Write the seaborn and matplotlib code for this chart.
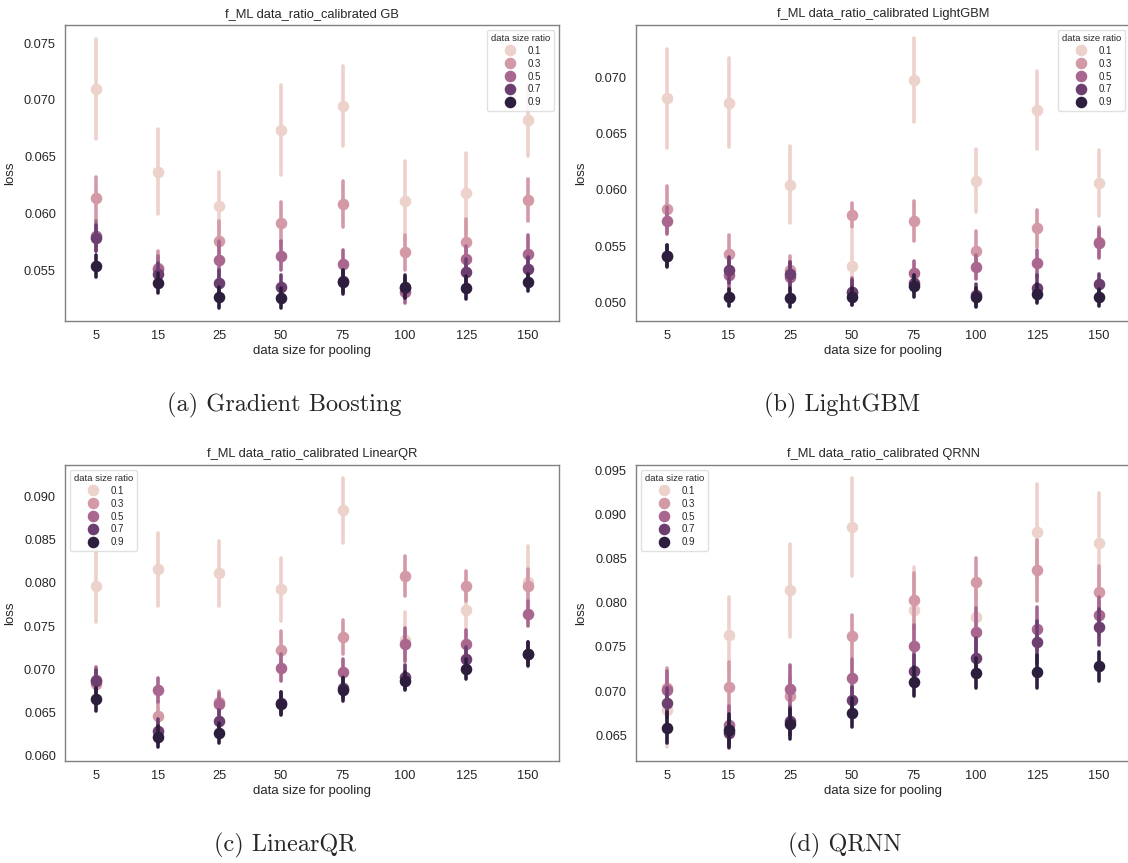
import numpy as np
import pandas as pd
import matplotlib
matplotlib.use("Agg")
import matplotlib.pyplot as plt
import seaborn as sns

sizes = [5, 15, 25, 50, 75, 100, 125, 150]
ratios = ["0.1", "0.3", "0.5", "0.7", "0.9"]

# ---- Gradient Boosting ----
gb_mean = {
    "0.1": [0.07097, 0.06371, 0.06070, 0.06737, 0.06947, 0.06114, 0.06187, 0.06825],
    "0.3": [0.06138, 0.05523, 0.05766, 0.05924, 0.06085, 0.05664, 0.05752, 0.06123],
    "0.5": [0.05807, 0.05515, 0.05597, 0.05632, 0.05559, 0.05319, 0.05602, 0.05646],
    "0.7": [0.05787, 0.05474, 0.05392, 0.05363, 0.05412, 0.05354, 0.05488, 0.05515],
    "0.9": [0.05544, 0.05392, 0.05269, 0.05263, 0.05401, 0.05363, 0.05354, 0.05401],
}
gb_err = {
    "0.1": [0.00442, 0.00374, 0.00300, 0.00395, 0.00354, 0.00354, 0.00351, 0.00313],
    "0.3": [0.00190, 0.00149, 0.00171, 0.00183, 0.00200, 0.00154, 0.00200, 0.00181],
    "0.5": [0.00132, 0.00120, 0.00168, 0.00127, 0.00127, 0.00102, 0.00120, 0.00168],
    "0.7": [0.00113, 0.00095, 0.00114, 0.00102, 0.00095, 0.00095, 0.00120, 0.00107],
    "0.9": [0.00094, 0.00088, 0.00091, 0.00088, 0.00105, 0.00098, 0.00102, 0.00073],
}

# ---- LightGBM ----
lgb_mean = {
    "0.1": [0.06814, 0.06775, 0.06047, 0.05328, 0.06976, 0.06083, 0.06710, 0.06059],
    "0.3": [0.05834, 0.05432, 0.05290, 0.05781, 0.05722, 0.05461, 0.05660, 0.05541],
    "0.5": [0.05728, 0.05242, 0.05231, 0.05097, 0.05260, 0.05316, 0.05349, 0.05526],
    "0.7": [0.05417, 0.05290, 0.05251, 0.05097, 0.05171, 0.05068, 0.05133, 0.05162],
    "0.9": [0.05414, 0.05047, 0.05044, 0.05053, 0.05150, 0.05047, 0.05077, 0.05047],
}
lgb_err = {
    "0.1": [0.00440, 0.00395, 0.00340, 0.00320, 0.00370, 0.00280, 0.00348, 0.00292],
    "0.3": [0.00204, 0.00166, 0.00120, 0.00107, 0.00178, 0.00172, 0.00163, 0.00130],
    "0.5": [0.00123, 0.00130, 0.00130, 0.00120, 0.00110, 0.00110, 0.00121, 0.00130],
    "0.7": [0.00096, 0.00115, 0.00107, 0.00107, 0.00075, 0.00100, 0.00111, 0.00096],
    "0.9": [0.00096, 0.00078, 0.00084, 0.00074, 0.00096, 0.00084, 0.00084, 0.00074],
}

# ---- LinearQR ----
lqr_mean = {
    "0.1": [0.07963, 0.08160, 0.08110, 0.07924, 0.08841, 0.07335, 0.07684, 0.08013],
    "0.3": [0.06832, 0.06461, 0.06619, 0.07227, 0.07374, 0.08079, 0.07963, 0.07966],
    "0.5": [0.06871, 0.06755, 0.06592, 0.07018, 0.06964, 0.07289, 0.07297, 0.07645],
    "0.7": [0.06860, 0.06282, 0.06399, 0.06610, 0.06786, 0.06910, 0.07119, 0.07180],
    "0.9": [0.06650, 0.06213, 0.06259, 0.06600, 0.06763, 0.06863, 0.06999, 0.07173],
}
lqr_err = {
    "0.1": [0.00414, 0.00422, 0.00372, 0.00366, 0.00377, 0.00330, 0.00300, 0.00410],
    "0.3": [0.00150, 0.00170, 0.00130, 0.00210, 0.00194, 0.00230, 0.00174, 0.00200],
    "0.5": [0.00155, 0.00139, 0.00130, 0.00155, 0.00149, 0.00190, 0.00155, 0.00143],
    "0.7": [0.00130, 0.00135, 0.00126, 0.00130, 0.00125, 0.00140, 0.00135, 0.00135],
    "0.9": [0.00132, 0.00122, 0.00120, 0.00132, 0.00130, 0.00103, 0.00116, 0.00137],
}

# ---- QRNN ----
qrnn_mean = {
    "0.1": [0.06783, 0.07632, 0.08138, 0.08858, 0.07915, 0.07836, 0.08794, 0.08670],
    "0.3": [0.07039, 0.07043, 0.06941, 0.07624, 0.08028, 0.08228, 0.08368, 0.08122],
    "0.5": [0.07009, 0.06613, 0.07024, 0.07153, 0.07515, 0.07666, 0.07704, 0.07858],
    "0.7": [0.06866, 0.06526, 0.06662, 0.06896, 0.07224, 0.07379, 0.07553, 0.07726],
    "0.9": [0.06586, 0.06556, 0.06624, 0.06756, 0.07107, 0.07209, 0.07221, 0.07281],
}
qrnn_err = {
    "0.1": [0.00410, 0.00430, 0.00528, 0.00551, 0.00490, 0.00300, 0.00550, 0.00570],
    "0.3": [0.00220, 0.00290, 0.00220, 0.00242, 0.00310, 0.00280, 0.00345, 0.00290],
    "0.5": [0.00220, 0.00220, 0.00270, 0.00210, 0.00236, 0.00270, 0.00245, 0.00210],
    "0.7": [0.00170, 0.00170, 0.00160, 0.00150, 0.00180, 0.00220, 0.00240, 0.00200],
    "0.9": [0.00175, 0.00190, 0.00170, 0.00160, 0.00160, 0.00170, 0.00190, 0.00164],
}

panels = [
    ("GB", gb_mean, gb_err, (0.05061, 0.07658), [0.055, 0.060, 0.065, 0.070, 0.075], "upper right", "(a) Gradient Boosting"),
    ("LightGBM", lgb_mean, lgb_err, (0.04837, 0.07464), [0.050, 0.055, 0.060, 0.065, 0.070], "upper right", "(b) LightGBM"),
    ("LinearQR", lqr_mean, lqr_err, (0.05934, 0.09368), [0.060, 0.065, 0.070, 0.075, 0.080, 0.085, 0.090], "upper left", "(c) LinearQR"),
    ("QRNN", qrnn_mean, qrnn_err, (0.06209, 0.09557), [0.065, 0.070, 0.075, 0.080, 0.085, 0.090, 0.095], "upper left", "(d) QRNN"),
]


def long_frame(mean, err):
    rows = []
    for r in ratios:
        for s, m, e in zip(sizes, mean[r], err[r]):
            for v in (m - e, m, m + e):
                rows.append({"data size for pooling": str(s), "data size ratio": r, "loss": v})
    return pd.DataFrame(rows)


sns.set_style("white")
plt.rcParams["font.family"] = ["Liberation Sans", "DejaVu Sans"]

cmap = sns.color_palette("ch:", as_cmap=True)
palette = [cmap(x) for x in np.linspace(0, 1, len(ratios))]

W, H = 1128, 863
fig = plt.figure(figsize=(W / 100, H / 100), dpi=100)

boxes = [
    (65, 25, 494, 296),
    (636, 25, 494, 296),
    (65, 465, 494, 296),
    (636, 465, 494, 296),
]
caption_pos = [(284, 405), (842, 405), (285, 845), (845, 845)]

for (name, mean, err, ylim, yticks, loc, caption), (x0, y0, w, h), (cx, cy) in zip(panels, boxes, caption_pos):
    ax = fig.add_axes([x0 / W, 1 - (y0 + h) / H, w / W, h / H])
    df = long_frame(mean, err)
    sns.pointplot(
        data=df, x="data size for pooling", y="loss", hue="data size ratio",
        order=[str(s) for s in sizes], hue_order=ratios, palette=palette,
        estimator="median", errorbar=lambda v: (v.min(), v.max()),
        linestyle="none", markersize=6.3, err_kws={"linewidth": 2.6}, ax=ax,
    )
    ax.set_ylim(*ylim)
    ax.set_yticks(yticks)
    ax.set_yticklabels([f"{t:.3f}" for t in yticks])
    ax.tick_params(labelsize=9.2, pad=3)
    ax.set_xlabel("data size for pooling", fontsize=9.5, labelpad=2)
    ax.set_ylabel("loss", fontsize=9.5, labelpad=6)
    ax.set_title(f"f_ML data_ratio_calibrated {name}", fontsize=9.3, pad=6)
    for sp in ax.spines.values():
        sp.set_color("0.5")
        sp.set_linewidth(1.0)
    leg = ax.legend(title="data size ratio", loc=loc, fontsize=7, title_fontsize=6.8,
                    markerscale=1.0, borderpad=0.4, labelspacing=0.3, handletextpad=0.8)
    leg.get_frame().set_edgecolor("0.85")
    fig.text(cx / W, 1 - cy / H, caption, family="cmr10", fontsize=17.5, ha="center", va="center")

fig.savefig("out.png", dpi=100)
